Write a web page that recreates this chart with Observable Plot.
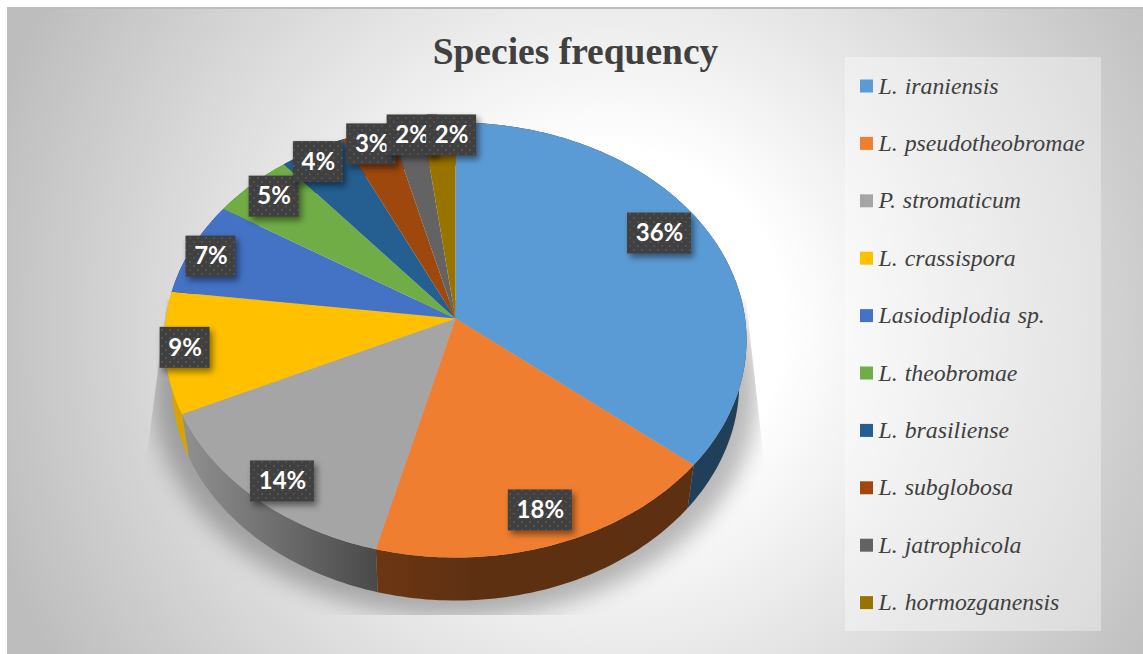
<!DOCTYPE html>
<html>
<head>
<meta charset="utf-8">
<script src="https://cdn.jsdelivr.net/npm/d3@7"></script>
<script src="https://cdn.jsdelivr.net/npm/@observablehq/plot@0.6"></script>
<style>
  html, body { margin: 0; padding: 0; background: #fff; }
  #stage { position: relative; width: 1143px; height: 654px; overflow: hidden; }
  #sheet {
    position: absolute; left: 7px; top: 7px; right: 0; bottom: 0;
    border-left: 1px solid #bdbdbd; border-top: 2px solid #bdbdbd;
    background: radial-gradient(circle 650px at 600px 315px, #fff 27%, #bdbdbd 100%);
  }
  #legendPanel {
    position: absolute; left: 845px; top: 57px; width: 256px; height: 574px;
    background: rgba(255, 255, 255, 0.36);
  }
  #chart { position: absolute; left: 0; top: 0; }
  #chart svg { display: block; background: none; }
</style>
</head>
<body>
<div id="stage">
  <div id="sheet"></div>
  <div id="legendPanel"></div>
  <div id="chart"></div>
</div>
<script>
// Species shares, percent, clockwise from twelve o'clock
const species = [
  "L. iraniensis", "L. pseudotheobromae", "P. stromaticum", "L. crassispora",
  "Lasiodiplodia sp.", "L. theobromae", "L. brasiliense", "L. subglobosa",
  "L. jatrophicola", "L. hormozganensis"
];
const shares = [36, 18, 14, 9, 7, 5, 4, 3, 2, 2];

// Slice colours and the darker wall colours of the tilted disc
const sliceColors = [
  "#5B9BD5", "#F07E30", "#A5A5A5", "#FFC000", "#4472C4",
  "#70AD47", "#255E91", "#9E480E", "#636363", "#997300"
];
const wallColors = [
  "#213F58", "url(#wallOrange)", "url(#wallGray)", "#D9A300", "#2A4474",
  "#43682B", "#163955", "#5F2B08", "#3C3C3C", "#5C4500"
];

// Label placement along each slice: share of the radius, and a small turn in degrees
const labelReach = [0.84, 0.862, 0.897, 0.931, 0.918, 0.894, 0.934, 0.933, 0.942, 0.928];
const labelTurn = [-4.05, -0.2, -1.3, 0.7, -1, 0.7, -0.7, 0.1, 0.8, 2.7];

// Tilted-disc projection: the near edge of the disc is drawn larger than the far edge
const radiusX = 289.6, radiusY = 215.4, perspective = 0.0988;
const wallDrop = 43, wallShrink = 0.975;

function project(turn, reach = 1) {
  const X = reach * Math.sin(turn), Y = -reach * Math.cos(turn);
  const w = 1 - perspective * Y;
  return {x: radiusX * X / w, y: radiusY * Y / w};
}
function arc(a0, a1) {
  const n = Math.max(2, Math.ceil(Math.abs(a1 - a0) / 0.02));
  return d3.range(n + 1).map((i) => project(a0 + (a1 - a0) * i / n));
}

const arcs = d3.pie().sort(null)(shares);

const sliceOutlines = arcs.flatMap((a, i) =>
  [{x: 0, y: 0}, ...arc(a.startAngle, a.endAngle)].map((p) => ({...p, name: species[i]}))
);
const walls = arcs.map((a) => {
  const top = arc(a.startAngle, a.endAngle);
  const bottom = top.map((p) => ({x: p.x * wallShrink, y: p.y + wallDrop})).reverse();
  return [...top, ...bottom];
});
const discShadow = arc(0, 2 * Math.PI).map((p) => ({x: p.x * 1.04, y: p.y * 1.04 + 50}));

const labels = arcs.map((a, i) => {
  const mid = (a.startAngle + a.endAngle) / 2 + labelTurn[i] * Math.PI / 180;
  const p = project(mid, labelReach[i]);
  const text = `${shares[i]}%`;
  return {...p, text, half: text.length > 2 ? 32 : 25};
});

const rowGap = 57.4, firstRow = -232.5, swatchX = 411, nameX = 423;

const svg = Plot.plot({
  width: 1143,
  height: 654,
  margin: 0,
  axis: null,
  x: {domain: [-455, 688], range: [0, 1143]},
  y: {domain: [-318, 336], range: [0, 654]},
  color: {domain: species, range: sliceColors},
  style: {background: "none", overflow: "visible"},
  marks: [
    Plot.line(discShadow, {
      x: "x", y: "y", fill: "#000", fillOpacity: 0.27,
      imageFilter: "blur(11px)"
    }),
    ...walls.map((wall, i) => Plot.line(wall, {x: "x", y: "y", fill: wallColors[i]})),
    Plot.line(sliceOutlines, {x: "x", y: "y", z: "name", fill: "name"}),
    ...labels.flatMap((d) => [
      Plot.rect([d], {
        x1: (l) => l.x - l.half, x2: (l) => l.x + l.half,
        y1: (l) => l.y - 20.5, y2: (l) => l.y + 20.5,
        fill: "url(#labelDots)",
        imageFilter: "drop-shadow(3px 4px 3px rgba(0,0,0,0.45))"
      }),
      Plot.text([d], {
        x: "x", y: "y", text: "text", fill: "#fff",
        fontFamily: "Lato", fontWeight: 700, fontSize: 24
      })
    ]),
    Plot.text(["Species frequency"], {
      frameAnchor: "top-left", dx: 575, dy: 37, textAnchor: "middle",
      fontFamily: "Liberation Serif", fontWeight: 700, fontSize: 37.5, fill: "#404040"
    }),
    Plot.dot(species, {
      x: () => swatchX, y: (d, i) => firstRow + i * rowGap,
      symbol: "square", r: 7.33, fill: (d) => d
    }),
    Plot.text(species, {
      x: () => nameX, y: (d, i) => firstRow + i * rowGap, text: (d) => d,
      textAnchor: "start", fontFamily: "Liberation Serif", fontStyle: "italic",
      fontSize: 23.8, fill: "#404040"
    })
  ]
});

svg.insertAdjacentHTML("afterbegin", `
  <defs>
    <pattern id="labelDots" width="8" height="8" patternUnits="userSpaceOnUse">
      <rect width="8" height="8" fill="#404040"/>
      <circle cx="2" cy="2" r="1" fill="#565656"/>
      <circle cx="6" cy="6" r="1" fill="#565656"/>
    </pattern>
    <linearGradient id="wallGray" gradientUnits="userSpaceOnUse" x1="185" x2="384" y1="0" y2="0">
      <stop offset="0" stop-color="#8F8F8F"/>
      <stop offset="1" stop-color="#474747"/>
    </linearGradient>
    <linearGradient id="wallOrange" gradientUnits="userSpaceOnUse" x1="385" x2="470" y1="0" y2="0">
      <stop offset="0" stop-color="#6C3613"/>
      <stop offset="1" stop-color="#5E3012"/>
    </linearGradient>
    <clipPath id="shadowBounds">
      <polygon points="167,300 145,470 145,615 765,615 765,470 746,300"/>
    </clipPath>
  </defs>`);

// The disc shadow is cut off along a sloped box, so wrap it for clipping after its blur
const lineMarks = svg.querySelectorAll('g[aria-label="line"]');
const shadow = lineMarks[0];
const shadowClip = document.createElementNS("http://www.w3.org/2000/svg", "g");
shadowClip.setAttribute("clip-path", "url(#shadowBounds)");
shadow.parentNode.insertBefore(shadowClip, shadow);
shadowClip.appendChild(shadow);

const textMarks = svg.querySelectorAll('g[aria-label="text"]');
textMarks[textMarks.length - 1].style.wordSpacing = "1px";

document.getElementById("chart").appendChild(svg);
</script>
</body>
</html>
